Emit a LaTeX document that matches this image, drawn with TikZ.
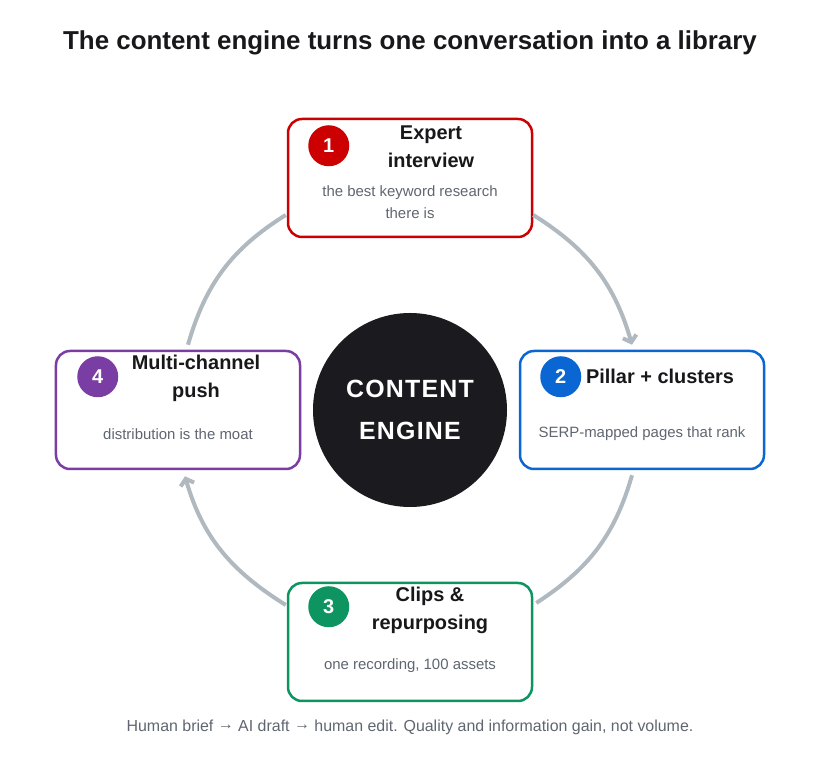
\documentclass[tikz,border=0pt]{standalone}
\usepackage{fontspec}
\setmainfont{Liberation Sans}
\newfontfamily\enginefont[LetterSpace=5]{Liberation Sans}
\usetikzlibrary{arrows.meta}

\definecolor{ink}{HTML}{18181B}
\definecolor{muted}{HTML}{5F6670}
\definecolor{loopgray}{HTML}{B0B8C0}
\definecolor{enginefill}{HTML}{1B1B1F}
\definecolor{redstage}{HTML}{CC0000}
\definecolor{bluestage}{HTML}{0A66D2}
\definecolor{greenstage}{HTML}{0E9460}
\definecolor{purplestage}{HTML}{7A3DA3}

\newcommand{\thento}{\raisebox{0.25ex}{→}}

\begin{document}
\begin{tikzpicture}[x=1bp,y=1bp,
    stage/.style ={draw, fill=white, rounded corners=14bp, line width=2.5bp,
                   minimum width=244bp, minimum height=118bp},
    badge/.style ={circle, minimum size=41bp, inner sep=0pt, text=white,
                   font=\fontsize{20}{20}\selectfont\bfseries},
    head/.style  ={align=center, inner sep=0pt, text=ink,
                   font=\fontsize{20}{28}\selectfont\bfseries},
    sub/.style   ={align=center, inner sep=0pt, text=muted,
                   font=\fontsize{15}{22}\selectfont},
    flow/.style  ={line width=4bp, draw=loopgray}]
   \useasboundingbox (0,0) rectangle (820,760);

   \node[text=ink, font=\fontsize{26}{30}\selectfont\bfseries] (title) at (410,717)
      {The content engine turns one conversation into a library};

   \node[circle, fill=enginefill, minimum size=194bp, inner sep=0pt, text=white, align=center,
         font=\fontsize{25}{42}\selectfont\enginefont\bfseries] (engine) at (410,350) {CONTENT\\ENGINE};

   % the four stages
   \node[stage, draw=redstage]    (expert) at (410,582) {};
   \node[stage, draw=bluestage]   (pillar) at (642,350) {};
   \node[stage, draw=greenstage]  (clips)  at (410,118) {};
   \node[stage, draw=purplestage] (push)   at (178,350) {};

   \node[badge, fill=redstage]    (n1) at ([shift={(42,-28)}]expert.north west) {1};
   \node[badge, fill=bluestage]   (n2) at ([shift={(42,-27)}]pillar.north west) {2};
   \node[badge, fill=greenstage]  (n3) at ([shift={(42,-25)}]clips.north west)  {3};
   \node[badge, fill=purplestage] (n4) at ([shift={(43,-27)}]push.north west)   {4};

   \node[head] (h1) at ([shift={(21,-29)}]expert.north) {Expert\\interview};
   \node[head] (h2) at ([shift={(18,-27)}]pillar.north) {Pillar + clusters};
   \node[head] (h3) at ([shift={(20,-29)}]clips.north)  {Clips \&\\repurposing};
   \node[head] (h4) at ([shift={(18,-29)}]push.north)   {Multi-channel\\push};

   \node[sub] (s1) at ([shift={(0,-24)}]expert.center) {the best keyword research\\there is};
   \node[sub] (s2) at ([shift={(0,-24)}]pillar.center) {SERP-mapped pages that rank};
   \node[sub] (s3) at ([shift={(0,-24)}]clips.center)  {one recording, 100 assets};
   \node[sub] (s4) at ([shift={(0,-24)}]push.center)   {distribution is the moat};

   % the loop round the engine
   \draw[flow, -{Straight Barb[length=6bp,width=14bp]}]
      ([shift={(0,-37)}]expert.east) to[out=-32, in=106] ([shift={(-10,5)}]pillar.north);
   \draw[flow] ([shift={(-10,-5)}]pillar.south) to[out=-106, in=33] ([shift={(3,39)}]clips.east);
   \draw[flow, -{Straight Barb[length=6bp,width=14bp]}]
      ([shift={(-1,37)}]clips.west) to[out=148, in=-74] ([shift={(7,-6)}]push.south);
   \draw[flow] ([shift={(10,5)}]push.north) to[out=74, in=212] ([shift={(-1,-37)}]expert.west);

   \node[text=muted, font=\fontsize{16}{18}\selectfont] (caption) at (410,33)
      {Human brief \thento{} AI draft \thento{} human edit. Quality and information gain, not volume.};
 \end{tikzpicture}
\end{document}
